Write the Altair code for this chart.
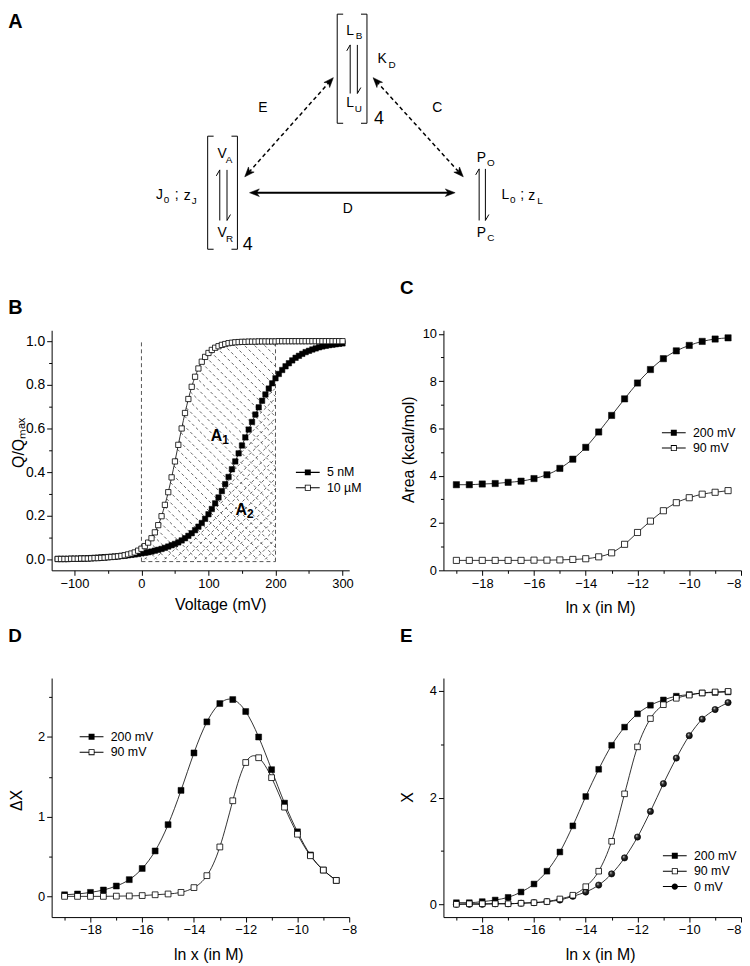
import math
import altair as alt
import numpy as np
import pandas as pd

FONT = "Liberation Sans"

# ---------------- Panel B: normalised charge vs voltage ----------------
b_series = ["5 nM", "10 µM"]
b_voltage = list(range(-125, 301, 5))
b_q_5nM = [
    0.002, 0.002, 0.002, 0.002, 0.003, 0.003, 0.003, 0.004, 0.004, 0.005,
    0.006, 0.007, 0.008, 0.009, 0.010, 0.011, 0.012, 0.013, 0.014, 0.016,
    0.017, 0.019, 0.021, 0.023, 0.025, 0.028, 0.030, 0.033, 0.036, 0.040,
    0.044, 0.048, 0.053, 0.059, 0.065, 0.071, 0.078, 0.087, 0.097, 0.108,
    0.120, 0.134, 0.150, 0.167, 0.186, 0.207, 0.231, 0.257, 0.284, 0.313,
    0.345, 0.378, 0.413, 0.449, 0.486, 0.522, 0.559, 0.595, 0.630, 0.664,
    0.697, 0.727, 0.756, 0.783, 0.807, 0.830, 0.850, 0.868, 0.885, 0.899,
    0.912, 0.924, 0.933, 0.942, 0.950, 0.956, 0.962, 0.967, 0.972, 0.976,
    0.979, 0.982, 0.984, 0.986, 0.988, 0.990,
]
b_q_10uM = [
    0.002, 0.002, 0.002, 0.002, 0.003, 0.003, 0.003, 0.004, 0.004, 0.004,
    0.005, 0.006, 0.006, 0.007, 0.008, 0.010, 0.011, 0.012, 0.014, 0.016,
    0.019, 0.023, 0.027, 0.032, 0.040, 0.049, 0.061, 0.077, 0.097, 0.124,
    0.157, 0.198, 0.250, 0.308, 0.376, 0.449, 0.525, 0.600, 0.671, 0.735,
    0.791, 0.837, 0.875, 0.906, 0.928, 0.946, 0.960, 0.970, 0.977, 0.983,
    0.987, 0.991, 0.993, 0.995, 0.996, 0.997, 0.997, 0.998, 0.998, 0.998,
    0.999, 0.999, 0.999, 0.999, 0.999, 0.999, 1.000, 1.000, 1.000, 1.000,
    1.000, 1.000, 1.000, 1.000, 1.000, 1.000, 1.000, 1.000, 1.000, 1.000,
    1.000, 1.000, 1.000, 1.000, 1.000, 1.000,
]
b_area_limits = [0, 200]          # integration window (mV)
b_area_labels = [("A", "1", 112, 0.567, 125.5, 0.547), ("A", "2", 149, 0.226, 162.5, 0.207)]

# ---------------- Panels C-E: vs ln x ----------------
ln_x = [-19.0, -18.5, -18.0, -17.5, -17.0, -16.5, -16.0, -15.5, -15.0, -14.5, -14.0,
        -13.5, -13.0, -12.5, -12.0, -11.5, -11.0, -10.5, -10.0, -9.5, -9.0, -8.5]
cde_series = ["200 mV", "90 mV", "0 mV"]
c_area_200 = [3.62, 3.62, 3.65, 3.67, 3.72, 3.77, 3.88, 4.04, 4.31, 4.70, 5.20,
              5.85, 6.55, 7.25, 7.92, 8.49, 8.95, 9.28, 9.51, 9.68, 9.78, 9.83]
c_area_90 = [0.42, 0.42, 0.42, 0.42, 0.42, 0.42, 0.43, 0.43, 0.44, 0.46, 0.49,
             0.57, 0.74, 1.10, 1.60, 2.08, 2.52, 2.86, 3.07, 3.22, 3.30, 3.37]
d_dx_200 = [0.02, 0.03, 0.05, 0.08, 0.13, 0.21, 0.35, 0.57, 0.90, 1.33, 1.80,
            2.19, 2.42, 2.47, 2.32, 2.00, 1.59, 1.17, 0.81, 0.52, 0.33, 0.20]
d_dx_90 = [0.00, 0.00, 0.00, 0.00, 0.003, 0.005, 0.01, 0.02, 0.03, 0.05, 0.11,
           0.26, 0.62, 1.20, 1.68, 1.74, 1.49, 1.12, 0.78, 0.51, 0.33, 0.20]
e_x_200 = [0.03, 0.03, 0.05, 0.08, 0.13, 0.23, 0.38, 0.62, 0.98, 1.47, 2.02,
           2.53, 2.98, 3.32, 3.57, 3.73, 3.83, 3.90, 3.93, 3.96, 3.97, 3.98]
e_x_90 = [0.00, 0.01, 0.01, 0.01, 0.01, 0.02, 0.03, 0.05, 0.10, 0.17, 0.33,
          0.62, 1.18, 2.07, 2.95, 3.48, 3.74, 3.86, 3.92, 3.96, 3.98, 3.99]
e_x_0 = [0.00, 0.00, 0.00, 0.01, 0.01, 0.02, 0.03, 0.05, 0.08, 0.15, 0.23,
         0.36, 0.57, 0.87, 1.26, 1.74, 2.26, 2.74, 3.16, 3.47, 3.65, 3.78]

# ---------------- Panel A: scheme (page-pixel coordinates) ----------------
a_brackets = [(339.6, 369.6, 8.0, 118.0), (209.0, 239.0, 131.0, 245.0)]
a_harpoons = [(352.7, 359.9, 39.0, 88.0), (221.2, 228.5, 165.0, 216.0), (482.7, 489.0, 164.0, 216.0)]
a_arrows = [(335.7, 72.0, 246.4, 172.0, "dash"), (375.8, 72.0, 466.7, 172.0, "dash"),
            (251.2, 188.0, 458.5, 188.0, "solid")]
a_text = [
    ("L", 352.7, 25, 14), ("B", 361.5, 30, 10), ("L", 352.7, 98, 14), ("U", 361.0, 104, 10),
    ("K", 385.0, 53, 14), ("D", 395.0, 59, 10),
    ("V", 223.6, 149, 14), ("A", 230.5, 155, 10), ("V", 223.6, 229, 14), ("R", 231.0, 235, 10),
    ("P", 485.0, 153, 14), ("O", 494.5, 158, 10), ("P", 485.0, 229, 14), ("C", 494.5, 234, 10),
    ("J", 160.4, 190, 14), ("0", 167.5, 195, 10), (";", 177.8, 190, 14), ("z", 188.4, 191, 14), ("J", 195.5, 196, 10),
    ("L", 509.0, 190, 14), ("0", 516.5, 195, 10), (";", 526.0, 190, 14), ("z", 535.8, 191, 14), ("L", 544.0, 196, 10),
    ("E", 264.7, 103, 14), ("C", 440.6, 103, 14), ("D", 350.2, 204, 14),
    ("4", 381.6, 114, 18), ("4", 249.5, 241, 18),
]
panel_labels = [("A", 8, 22), ("B", 8, 310)]

# ---------------- shared styling helpers ----------------
STUBS = "M-3,-0.13H-0.75V0.13H-3ZM0.75,-0.13H3V0.13H0.75Z"
SQ_F = STUBS + "M-0.75,-0.75H0.75V0.75H-0.75Z"
SQ_O = SQ_F + "M-0.55,-0.55V0.55H0.55V-0.55Z"
BALL = STUBS + "M-0.8,0A0.8,0.8 0 1 1 0.8,0A0.8,0.8 0 1 1 -0.8,0Z"
ARROW_HEAD = "M0,-1L0.7,0.8L0,0.3L-0.7,0.8Z"
BALL_FILL = alt.RadialGradient(
    gradient="radial",
    stops=[alt.GradientStop(color="#ffffff", offset=0), alt.GradientStop(color="#333333", offset=0.35),
           alt.GradientStop(color="#000000", offset=1)],
    x1=0.35, y1=0.3, r1=0, x2=0.45, y2=0.45, r2=0.6)


def tick_axis(values, major_test, title, tx, ty, orient, fmt=None, label_size=13, flush=False):
    kw = dict(values=values, orient=orient, labelExpr=f"({major_test}) ? datum.label : ''",
              tickSize={"condition": {"test": major_test, "value": 5}, "value": 3},
              title=title, titleX=tx, titleY=ty, titleBaseline="middle", titleAlign="center",
              titleFont=FONT, titleFontSize=16, titleFontWeight="normal", titleColor="black",
              labelFont=FONT, labelFontSize=label_size, labelColor="black", labelPadding=2,
              labelOverlap=False, labelFlush=flush, domainColor="black", domainWidth=1,
              tickColor="black", tickWidth=1, grid=False)
    if fmt:
        kw["format"] = fmt
    return alt.Axis(**kw)


def panel_title(t, offset=17):
    return alt.TitleParams(t, anchor="start", frame="group", dx=-43.7, offset=offset, baseline="alphabetic",
                           font=FONT, fontSize=19, fontWeight="bold", color="black")


def legend_layer(df, x, y, domain, shapes, lx, ly):
    return alt.Chart(df).mark_point(size=0, filled=True, fill="black", strokeWidth=0, opacity=1).encode(
        x=x, y=y,
        shape=alt.Shape("series:N", scale=alt.Scale(domain=domain, range=shapes),
                        legend=alt.Legend(title=None, orient="none", legendX=lx, legendY=ly, symbolSize=64,
                                          symbolFillColor="black", symbolStrokeWidth=0, symbolOpacity=1,
                                          labelFont=FONT, labelFontSize=12.5, labelColor="black",
                                          labelOffset=13, rowPadding=2.5, padding=0)))


def point_layer(df, name, x, y, kind, size):
    base = alt.Chart(df).transform_filter(alt.datum.series == name)
    if kind == "filled":
        m = base.mark_point(shape="square", filled=True, fill="black", stroke="black", strokeWidth=0.5,
                            size=size, opacity=1)
    elif kind == "open":
        m = base.mark_point(shape="square", filled=True, fill="white", stroke="black", strokeWidth=0.8,
                            size=size, opacity=1)
    else:
        m = base.mark_point(shape="circle", filled=True, fill=BALL_FILL, stroke="black", strokeWidth=0.6,
                            size=size, opacity=1)
    return m.encode(x=x, y=y)


# ---------------- Panel B (plot) ----------------
nB = len(b_voltage)
dfB = pd.DataFrame({"V": b_voltage * 2, "Q": b_q_5nM + b_q_10uM,
                    "series": [b_series[0]] * nB + [b_series[1]] * nB})
xB = alt.X("V:Q", scale=alt.Scale(domain=[-134, 310], nice=False, zero=False),
           axis=tick_axis(list(range(-100, 301, 50)), "datum.value % 100 === 0", "Voltage (mV)", 170, 34,
                          "bottom"))
yB = alt.Y("Q:Q", scale=alt.Scale(domain=[-0.05, 1.05], nice=False, zero=False),
           axis=tick_axis([round(i * 0.1, 1) for i in range(11)], "round(datum.value * 10) % 2 === 0",
                          "Q/Qₘₐₓ", -33.7, 113, "left", fmt=".1f", label_size=14))

# hatch texture: "\" under the 10 uM curve, "/" under the 5 nM curve, inside the window
v_lo, v_hi = b_area_limits
vf = np.linspace(v_lo, v_hi, 2001)
f_open = np.interp(vf, b_voltage, b_q_10uM)
f_fill = np.interp(vf, b_voltage, b_q_5nM)
K = (242 / 1.1) / (300 / 444)   # mV per Q unit that gives a 45 degree line in pixels
hatch_rows = []


def add_hatch(curve, sign, cs):
    for c in cs:
        ql = (c - vf) / K if sign < 0 else (vf - c) / K
        m = (ql >= 0) & (ql <= curve)
        edges = np.flatnonzero(np.diff(np.concatenate([[0], m.astype(int), [0]])))
        for s, e in zip(edges[::2], edges[1::2] - 1):
            if e > s:
                hatch_rows.append(dict(V=vf[s], Q=ql[s], V2=vf[e], Q2=ql[e]))


add_hatch(f_open, -1, np.arange(8, v_hi + K * 1.0, 15))
add_hatch(f_fill, +1, np.arange(-K, v_hi, 15))
dfH = pd.DataFrame(hatch_rows)
dfBound = pd.DataFrame([dict(V=v_lo, Q=-0.01, V2=v_lo, Q2=1.0), dict(V=v_hi, Q=-0.01, V2=v_hi, Q2=0.99),
                        dict(V=v_lo, Q=-0.01, V2=v_hi, Q2=-0.01)])
dfAL = pd.DataFrame([dict(t=a, V=x, Q=y, fs=16) for (a, s, x, y, sx, sy) in b_area_labels] +
                    [dict(t=s, V=sx, Q=sy, fs=12) for (a, s, x, y, sx, sy) in b_area_labels])

plotB = alt.layer(
    alt.Chart(dfH).mark_rule(color="#222222", strokeWidth=0.7, strokeDash=[3, 2.5]).encode(
        x=xB, y=yB, x2="V2:Q", y2="Q2:Q"),
    alt.Chart(dfBound).mark_rule(color="#555555", strokeWidth=1, strokeDash=[4, 3]).encode(
        x=xB, y=yB, x2="V2:Q", y2="Q2:Q"),
    alt.Chart(dfB).mark_line(color="black", strokeWidth=0.8, interpolate="monotone").encode(
        x=xB, y=yB, detail="series:N"),
    point_layer(dfB, b_series[0], xB, yB, "filled", 30),
    point_layer(dfB, b_series[1], xB, yB, "open", 28),
    alt.Chart(dfAL).mark_text(font=FONT, fontWeight="bold", color="black", align="center",
                              baseline="middle").encode(x=xB, y=yB, text="t:N",
                                                        size=alt.Size("fs:Q", scale=None)),
    legend_layer(dfB, xB, yB, b_series, [SQ_F, SQ_O], 252, 137),
)

# ---------------- Panel A (drawn above panel B, page-pixel scales) ----------------
seg_rows = []
for (l, r, t, b) in a_brackets:
    arm = 6
    seg_rows += [dict(x=l, y=t, x2=l, y2=b), dict(x=l, y=t, x2=l + arm, y2=t),
                 dict(x=l, y=b, x2=l + arm, y2=b), dict(x=r, y=t, x2=r, y2=b),
                 dict(x=r, y=t, x2=r - arm, y2=t), dict(x=r, y=b, x2=r - arm, y2=b)]
for (xl, xr, yt, yb) in a_harpoons:
    seg_rows += [dict(x=xl, y=yt, x2=xl, y2=yb), dict(x=xl, y=yt, x2=xl - 3.5, y2=yt + 6),
                 dict(x=xr, y=yt, x2=xr, y2=yb), dict(x=xr, y=yb, x2=xr + 3.5, y2=yb - 6)]
dash_rows, solid_arrow_rows, head_rows = [], [], []
for (x0, y0, x1, y1, style) in a_arrows:
    L = math.hypot(x1 - x0, y1 - y0)
    ux, uy = (x1 - x0) / L, (y1 - y0) / L
    row = dict(x=x0 + ux * 5, y=y0 + uy * 5, x2=x1 - ux * 5, y2=y1 - uy * 5)
    (dash_rows if style == "dash" else solid_arrow_rows).append(row)
    for (tx, ty, dx, dy) in [(x1, y1, ux, uy), (x0, y0, -ux, -uy)]:
        head_rows.append(dict(x=tx - dx * 5.5, y=ty - dy * 5.5, ang=math.degrees(math.atan2(dx, -dy)) % 360))

B_LEFT, B_TOP = 51.7, 326.7   # page position of panel B's plot area
xA = alt.X("x:Q", scale=alt.Scale(domain=[B_LEFT, B_LEFT + 300], nice=False, zero=False), axis=None)
yA = alt.Y("y:Q", scale=alt.Scale(domain=[B_TOP, B_TOP + 242], nice=False, zero=False, reverse=True), axis=None)
dfText = pd.DataFrame(a_text, columns=["t", "x", "y", "fs"])
diagram = alt.layer(
    alt.Chart(pd.DataFrame(seg_rows)).mark_rule(color="black", strokeWidth=1).encode(x=xA, y=yA, x2="x2:Q", y2="y2:Q"),
    alt.Chart(pd.DataFrame(dash_rows)).mark_rule(color="black", strokeWidth=1.5, strokeDash=[4, 3]).encode(
        x=xA, y=yA, x2="x2:Q", y2="y2:Q"),
    alt.Chart(pd.DataFrame(solid_arrow_rows)).mark_rule(color="black", strokeWidth=2).encode(
        x=xA, y=yA, x2="x2:Q", y2="y2:Q"),
    alt.Chart(pd.DataFrame(head_rows)).mark_point(shape=ARROW_HEAD, filled=True, fill="black", stroke="black",
                                                  strokeWidth=0.5, size=121, opacity=1).encode(
        x=xA, y=yA, angle=alt.Angle("ang:Q", scale=None)),
    alt.Chart(dfText).mark_text(font=FONT, color="black", align="center", baseline="middle").encode(
        x=xA, y=yA, text="t:N", size=alt.Size("fs:Q", scale=None)),
    alt.Chart(pd.DataFrame(panel_labels, columns=["t", "x", "y"])).mark_text(
        font=FONT, fontSize=20, fontWeight="bold", color="black", align="left", baseline="alphabetic").encode(
        x=xA, y=yA, text="t:N"),
)

chartB = alt.layer(plotB, diagram).resolve_scale(x="independent", y="independent").properties(
    width=300, height=242)

# ---------------- Panels C, D, E ----------------
n = len(ln_x)


def frame(cols):
    vals, ser, xs = [], [], []
    for name, col in cols:
        vals += col
        ser += [name] * n
        xs += ln_x
    return pd.DataFrame({"lnx": xs, "val": vals, "series": ser})


def x_lnx(flush):
    return alt.X("lnx:Q", scale=alt.Scale(domain=[-19.5, -8], nice=False, zero=False),
                 axis=tick_axis(list(range(-19, -7)), "datum.value % 2 === 0", "ln x (in M)", 158, 38,
                                "bottom", label_size=13, flush=flush))


dfC = frame([(cde_series[0], c_area_200), (cde_series[1], c_area_90)])
xC = x_lnx(True)
yC = alt.Y("val:Q", scale=alt.Scale(domain=[0, 10.15], nice=False, zero=False),
           axis=tick_axis(list(range(0, 11)), "datum.value % 2 === 0", "Area (kcal/mol)", -35, 120, "left",
                          fmt=".0f"))
chartC = alt.layer(
    alt.Chart(dfC).mark_line(color="black", strokeWidth=0.8, interpolate="monotone").encode(
        x=xC, y=yC, detail="series:N"),
    point_layer(dfC, cde_series[0], xC, yC, "filled", 40),
    point_layer(dfC, cde_series[1], xC, yC, "open", 38),
    legend_layer(dfC, xC, yC, cde_series[:2], [SQ_F, SQ_O], 226, 97),
).properties(width=300, height=242, title=panel_title("C", 15))

dfD = frame([(cde_series[0], d_dx_200), (cde_series[1], d_dx_90)])
xD = x_lnx(False)
yD = alt.Y("val:Q", scale=alt.Scale(domain=[-0.26, 2.74], nice=False, zero=False),
           axis=tick_axis([0, 0.5, 1, 1.5, 2, 2.5], "datum.value % 1 === 0", "ΔX", -35.7, 123, "left",
                          fmt=".0f"))
chartD = alt.layer(
    alt.Chart(dfD).mark_line(color="black", strokeWidth=0.8, interpolate="natural").encode(
        x=xD, y=yD, detail="series:N"),
    point_layer(dfD, cde_series[0], xD, yD, "filled", 36),
    point_layer(dfD, cde_series[1], xD, yD, "open", 34),
    legend_layer(dfD, xD, yD, cde_series[:2], [SQ_F, SQ_O], 34, 53),
).properties(width=300, height=241, title=panel_title("D"))

dfE = frame([(cde_series[0], e_x_200), (cde_series[1], e_x_90), (cde_series[2], e_x_0)])
xE = x_lnx(True)
yE = alt.Y("val:Q", scale=alt.Scale(domain=[-0.24, 4.24], nice=False, zero=False),
           axis=tick_axis([0, 1, 2, 3, 4], "datum.value % 2 === 0", "X", -36, 120, "left", fmt=".0f"))
chartE = alt.layer(
    alt.Chart(dfE).mark_line(color="black", strokeWidth=0.8, interpolate="monotone").encode(
        x=xE, y=yE, detail="series:N"),
    point_layer(dfE, cde_series[0], xE, yE, "filled", 34),
    point_layer(dfE, cde_series[2], xE, yE, "ball", 40),
    point_layer(dfE, cde_series[1], xE, yE, "open", 32),
    legend_layer(dfE, xE, yE, cde_series, [SQ_F, SQ_O, BALL], 227, 173),
).properties(width=300, height=241, title=panel_title("E"))

chart = alt.concat(chartB, chartC, chartD, chartE, columns=2, spacing={"row": 108.6, "column": 95},
                   bounds="flush").resolve_scale(shape="independent").configure_view(
    stroke=None).properties(padding=0)

chart.save("out.html", embed_options={"renderer": "svg", "actions": False})
